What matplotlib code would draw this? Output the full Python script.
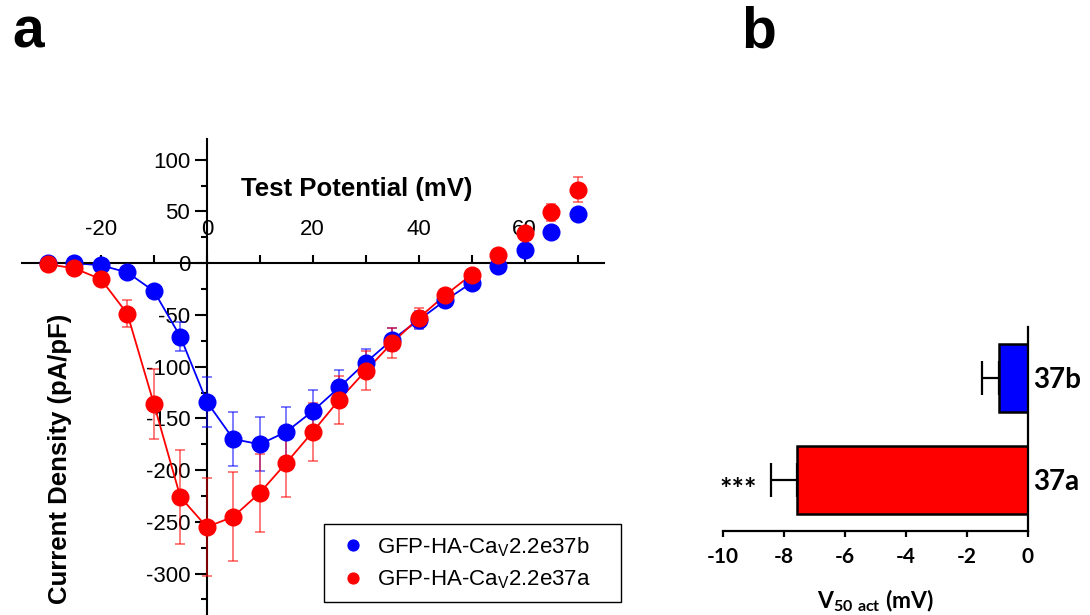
import numpy as np
import matplotlib
matplotlib.use("Agg")
import matplotlib.pyplot as plt

plt.rcParams["font.family"] = ["Liberation Sans", "DejaVu Sans"]
plt.rcParams["mathtext.fontset"] = "custom"
plt.rcParams["mathtext.bf"] = "Lato:bold"
plt.rcParams["mathtext.rm"] = "Liberation Sans"
plt.rcParams["axes.unicode_minus"] = False

# ---- I-V data (current density, pA/pF) ----
test_potential = [-30, -25, -20, -15, -10, -5, 0, 5, 10, 15, 20,
                  25, 30, 35, 40, 45, 50, 55, 60, 65, 70]
iv_37b = [0.5, 0, -2, -9, -27, -71, -134, -170, -175, -163, -143,
          -120, -96, -74, -55, -36, -19, -3, 13, 30, 48]
sem_37b = [1, 1, 1, 2, 3, 14, 24, 26, 26, 24, 20,
           17, 13, 11, 9, 6, 4, 2, 2, 3, 3]
iv_37a = [-1, -5, -15.5, -49, -136, -226, -255, -245, -222, -193, -163,
          -132, -104, -77, -53, -31, -11, 8, 29, 49, 71]
sem_37a = [1, 1, 2, 13, 34, 45, 47, 43, 38, 33, 28,
           23, 19, 14.5, 10, 6, 4, 3, 3, 8, 12]
# connecting curve spans the activating range only
curve_max_v = 50

label_37b = r"GFP-HA-Ca$_{\mathregular{V}}$2.2e37b"
label_37a = r"GFP-HA-Ca$_{\mathregular{V}}$2.2e37a"
blue = "#0000ff"
red = "#ff0000"

# ---- V50 activation data (mV) ----
v50_groups = ["37a", "37b"]
v50_mean = [-7.58, -0.93]
v50_sem = [0.86, 0.58]
v50_colors = [red, blue]

fig = plt.figure(figsize=(10.9, 6.15), dpi=100)

# ---------------- panel a ----------------
ax = fig.add_axes([21.5 / 1090, 0.0, 582.5 / 1090, 476 / 615])
ax.set_xlim(-35, 75)
ax.set_ylim(-340, 120)

for v, i, e, c, lab in [(test_potential, iv_37b, sem_37b, blue, label_37b),
                        (test_potential, iv_37a, sem_37a, red, label_37a)]:
    v = np.asarray(v)
    i = np.asarray(i)
    m = v <= curve_max_v
    ax.plot(v[m], i[m], color=c, lw=1.3, zorder=2)
    ax.errorbar(v, i, yerr=e, fmt="none", ecolor=c, elinewidth=1.1,
                capsize=3.8, capthick=1.1, alpha=0.65, zorder=3)
    ax.plot(v, i, "o", color=c, ms=12, mec=c, label=lab, zorder=4)

for s in ["right", "bottom"]:
    ax.spines[s].set_visible(False)
ax.spines["top"].set_position(("data", 0))
ax.spines["left"].set_position(("data", 0))
for s in ["top", "left"]:
    ax.spines[s].set_linewidth(1.5)

ax.xaxis.set_ticks_position("top")
ax.set_xticks(np.arange(-30, 71, 10))
ax.set_xticklabels(["" if t % 20 else str(t) for t in range(-30, 71, 10)])
ax.tick_params(axis="x", direction="out", length=6, width=1.5,
               labelsize=16, pad=11)
ax.yaxis.set_ticks_position("left")
ax.set_yticks(np.arange(-300, 101, 50))
ax.set_yticks(np.arange(-325, 101, 25), minor=True)
ax.tick_params(axis="y", which="major", direction="out", length=9,
               width=1.5, labelsize=16, pad=3)
ax.tick_params(axis="y", which="minor", direction="out", length=4.5,
               width=1.5)

ax.text(28.3, 71.5, "Test Potential (mV)", fontsize=18.5, fontweight="bold",
        ha="center", va="center")
fig.text(60 / 1090, 1 - 459 / 615, "Current Density (pA/pF)", fontsize=18.5,
         fontweight="bold", rotation=90, ha="center", va="center")

leg = ax.legend(loc="upper left",
                bbox_to_anchor=(324 / 1090, (615 - 601) / 615,
                                297 / 1090, 77 / 615),
                bbox_transform=fig.transFigure, borderaxespad=0, mode="expand",
                fontsize=16, markerscale=0.65, fancybox=False, framealpha=1,
                edgecolor="black", handlelength=1.6, handletextpad=0.3,
                labelspacing=0.45, borderpad=0.5)
leg.get_frame().set_linewidth(1.0)

# ---------------- panel b ----------------
bx = fig.add_axes([723 / 1090, (615 - 530.7) / 615, 304.7 / 1090, 203.7 / 615])
ypos = np.arange(len(v50_groups))
bx.barh(ypos, v50_mean, height=0.665, color=v50_colors, edgecolor="black",
        linewidth=1.8, zorder=2)
bx.errorbar(v50_mean, ypos, xerr=[v50_sem, [0] * len(v50_sem)], fmt="none",
            ecolor="black", elinewidth=1.6, capsize=12, capthick=1.6, zorder=3)
bx.set_xlim(-10, 0)
bx.set_ylim(-0.5, 1.5)
for s in ["left", "top"]:
    bx.spines[s].set_visible(False)
for s in ["right", "bottom"]:
    bx.spines[s].set_linewidth(1.6)
bx.yaxis.set_ticks_position("right")
bx.set_yticks(ypos)
bx.set_yticklabels(v50_groups, fontsize=20, fontweight="bold", family="Lato")
bx.tick_params(axis="y", length=0, pad=4)
bx.set_xticks(np.arange(-10, 1, 2))
bx.tick_params(axis="x", direction="out", length=4, width=1.6, pad=8)
for t in bx.get_xticklabels():
    t.set_fontsize(15)
    t.set_fontweight("bold")
    t.set_family("Lato")
bx.set_xlabel(r"V$_{\mathbf{50\ act}}$ (mV)", fontsize=16.5, fontweight="bold",
              family="Lato", labelpad=14)
bx.text(-8.9, -0.1, "***", fontsize=21, fontweight="bold", family="Lato",
        ha="right", va="center")

# panel letters
fig.text(12 / 1090, 1 - 47 / 615, "a", fontsize=41, fontweight="bold")
fig.text(741 / 1090, 1 - 48 / 615, "b", fontsize=41, fontweight="bold")

fig.savefig("out.png", dpi=100)
